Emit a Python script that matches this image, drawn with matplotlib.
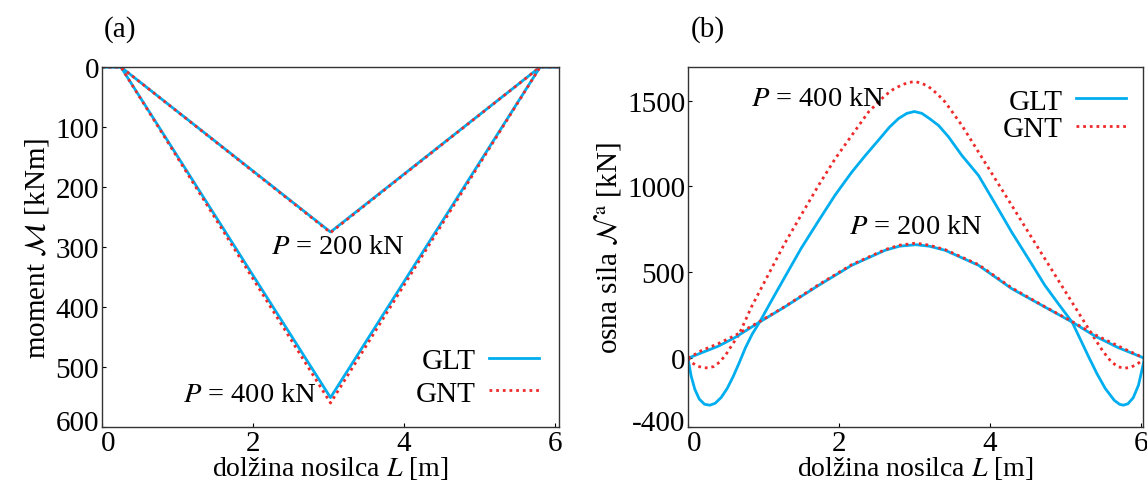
import matplotlib
matplotlib.use("Agg")
import matplotlib.pyplot as plt
import matplotlib.transforms as mtransforms

plt.rcParams['font.family'] = ['Liberation Serif', 'DejaVu Serif']
plt.rcParams['mathtext.fontset'] = 'stix'
plt.rcParams['font.size'] = 21
plt.rcParams['axes.unicode_minus'] = False

BLUE = '#00AEEF'
RED = '#EE2A2A'

# ---- panel (a): moment ----
m_x = [0.0, 0.25, 3.025, 5.80, 6.05]
m200_glt = [0, 0, 275, 0, 0]
m200_gnt = [0, 0, 276, 0, 0]
m400_glt = [0, 0, 551, 0, 0]
m400_gnt = [0, 0, 560, 0, 0]

# ---- panel (b): axial force ----
n400_glt_x = [0.0, 0.04, 0.09, 0.15, 0.22, 0.29, 0.36, 0.44, 0.52, 0.60, 0.68, 0.76, 0.85,
              0.95, 1.10, 1.28, 1.50, 1.73, 1.95, 2.17, 2.35, 2.52, 2.67, 2.79, 2.90, 3.00,
              3.10, 3.20, 3.32, 3.45, 3.63, 3.85, 4.07, 4.29, 4.51, 4.73, 4.92, 5.09, 5.20,
              5.30, 5.42, 5.53, 5.65, 5.72, 5.77, 5.83, 5.90, 5.97, 6.01, 6.05]
n400_glt = [0, -100, -180, -238, -268, -273, -262, -228, -175, -105, -25, 60, 140,
            211, 330, 470, 640, 800, 950, 1083, 1180, 1267, 1345, 1395, 1425, 1436,
            1425, 1395, 1355, 1290, 1180, 1064, 900, 734, 580, 424, 310, 211, 110,
            17, -90, -176, -245, -268, -273, -265, -230, -157, -80, 0]

n400_gnt_x = [0.0, 0.05, 0.12, 0.20, 0.27, 0.34, 0.42, 0.50, 0.58, 0.67, 0.75, 0.84, 1.06,
              1.28, 1.51, 1.73, 1.95, 2.17, 2.39, 2.61, 2.72, 2.83, 2.92, 3.01, 3.10, 3.19,
              3.30, 3.41, 3.63, 3.85, 4.07, 4.29, 4.51, 4.73, 4.95, 5.17, 5.39, 5.50, 5.61,
              5.70, 5.79, 5.87, 5.95, 6.00, 6.05]
n400_gnt = [0, -25, -45, -55, -56, -48, -22, 20, 75, 134, 210, 298, 483,
            667, 841, 1006, 1161, 1297, 1432, 1529, 1565, 1590, 1605, 1610, 1600, 1580,
            1540, 1490, 1355, 1200, 1045, 890, 734, 579, 424, 269, 114, 40, -21,
            -50, -58, -52, -35, -18, 0]

n200_x = [0.0, 0.18, 0.40, 0.62, 0.95, 1.28, 1.73, 2.17, 2.61, 2.80, 3.02, 3.20,
          3.41, 3.85, 4.29, 4.73, 5.09, 5.39, 5.70, 6.05]
n200_glt = [0, 32, 70, 120, 211, 298, 424, 541, 628, 652, 661, 652,
            628, 541, 405, 298, 211, 130, 62, 0]
n200_gnt = [0, 45, 85, 132, 214, 300, 428, 545, 632, 658, 670, 658,
            632, 545, 410, 300, 214, 138, 72, 0]

fig = plt.figure(figsize=(11.47, 4.85), dpi=100)
axA = fig.add_axes([102/1147, 1-428/485, 457/1147, 360/485])
axB = fig.add_axes([688/1147, 1-428/485, 455/1147, 360/485])

lw = 2.0
dot = (0, (1, 1.4))

axA.plot(m_x, m200_glt, color=BLUE, lw=lw, label='GLT')
axA.plot(m_x, m200_gnt, color=RED, lw=lw, ls=dot, label='GNT')
axA.plot(m_x, m400_glt, color=BLUE, lw=lw)
axA.plot(m_x, m400_gnt, color=RED, lw=lw, ls=dot)
axA.set_xlim(0, 6.05)
axA.set_ylim(600, 0)
axA.set_xticks([0, 2, 4, 6])
axA.set_yticks([0, 100, 200, 300, 400, 500, 600])
axA.set_ylabel(r'moment $\mathcal{M}$ [kNm]', labelpad=3)
axA.set_xlabel(r'dolžina nosilca $L$ [m]', labelpad=-1, fontsize=20)
axA.text(3.13, 300, r'$P$ = 200 kN', ha='center', va='center', fontsize=20.5)
axA.text(1.96, 546, r'$P$ = 400 kN', ha='center', va='center', fontsize=20.5)
axA.legend(loc='lower right', frameon=False, markerfirst=False, handlelength=1.7,
           handletextpad=0.45, labelspacing=0.2, borderaxespad=0.3,
           bbox_to_anchor=(1.0, 0.0))

axB.plot(n400_glt_x, n400_glt, color=BLUE, lw=lw, label='GLT')
axB.plot(n400_gnt_x, n400_gnt, color=RED, lw=lw, ls=dot, label='GNT')
axB.plot(n200_x, n200_glt, color=BLUE, lw=lw)
axB.plot(n200_x, n200_gnt, color=RED, lw=lw, ls=dot)
axB.set_xlim(0, 6.03)
axB.set_ylim(-400, 1695)
axB.set_xticks([0, 2, 4, 6])
axB.set_yticks([-400, 0, 500, 1000, 1500])
axB.set_ylabel(r'osna sila $\mathcal{N}^{\,\mathrm{a}}$ [kN]', labelpad=3)
axB.set_xlabel(r'dolžina nosilca $L$ [m]', labelpad=-1, fontsize=20)
axB.text(1.72, 1510, r'$P$ = 400 kN', ha='center', va='center', fontsize=20.5)
axB.text(3.02, 766, r'$P$ = 200 kN', ha='center', va='center', fontsize=20.5)
axB.legend(loc='upper right', frameon=False, markerfirst=False, handlelength=1.7,
           handletextpad=0.45, labelspacing=0.05, borderaxespad=0.2,
           bbox_to_anchor=(1.0, 0.99))

shift_right = mtransforms.ScaledTranslation(6/100, 0, fig.dpi_scale_trans)
shift_up = mtransforms.ScaledTranslation(0, 7/100, fig.dpi_scale_trans)
for ax in (axA, axB):
    ax.tick_params(direction='in', length=3, width=0.8, pad=2)
    for s in ax.spines.values():
        s.set_linewidth(1.0)
        s.set_color('#333333')
    xl = ax.get_xticklabels()
    xl[0].set_transform(xl[0].get_transform() + shift_right)
    yl = ax.get_yticklabels()
    # bottom-most label (600 on inverted axis, -400 on normal axis)
    idx = -1 if ax is axA else 0
    yl[idx].set_transform(yl[idx].get_transform() + shift_up)

fig.text(120/1147, 1-30/485, '(a)', ha='center', va='center')
fig.text(708/1147, 1-30/485, '(b)', ha='center', va='center')

fig.savefig('out.png', dpi=100)
